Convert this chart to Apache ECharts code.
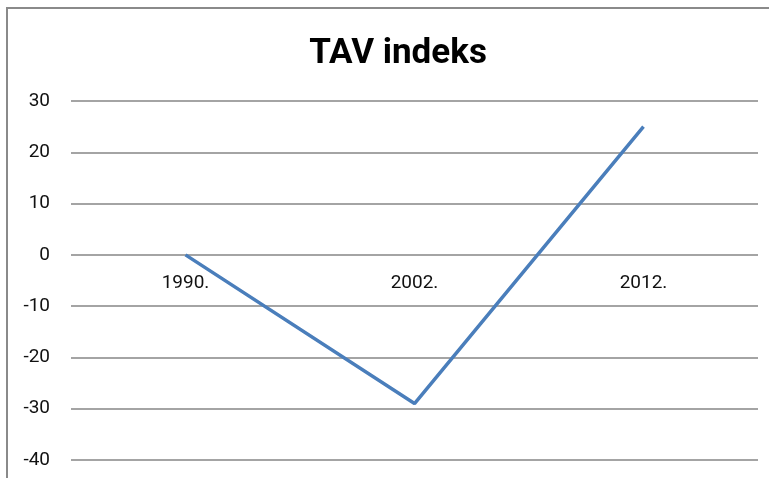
<!DOCTYPE html>
<html>
<head>
<meta charset="utf-8">
<script src="https://cdn.jsdelivr.net/npm/echarts@6/dist/echarts.min.js"></script>
<style>
  html, body { margin: 0; padding: 0; background: #fff; }
  #main { width: 769px; height: 478px; }
</style>
</head>
<body>
<div id="main"></div>
<script>
// data
var years = ['1990.', '2002.', '2012.'];
var tavValues = [0, -29, 25];
var yMin = -40, yMax = 30, yStep = 10;

var fontMain = 'Roboto, sans-serif';

// grid in px
var gridTop = 101, gridBottom = 18;
var plotH = 478 - gridTop - gridBottom;
// shift category axis up onto the zero line
var zeroOffset = -plotH * (0 - yMin) / (yMax - yMin);

var myChart = echarts.init(document.getElementById('main'));
var option = {
    backgroundColor: '#fff',
    animation: false,
    title: {
        text: 'TAV indeks',
        left: 393,
        textAlign: 'center',
        top: 32,
        textStyle: {
            fontFamily: fontMain,
            fontWeight: 'bold',
            fontSize: 35,
            color: '#000'
        }
    },
    // outer chart border (only top and left visible in the crop)
    graphic: [{
        type: 'rect',
        shape: { x: 7, y: 8, width: 780, height: 490 },
        style: { fill: 'none', stroke: '#8a8a8a', lineWidth: 2 }
    }],
    grid: {
        left: 71,
        right: 11,
        top: gridTop,
        bottom: gridBottom,
        outerBoundsMode: 'none'
    },
    xAxis: {
        type: 'category',
        data: years,
        position: 'bottom',
        offset: zeroOffset,
        axisLine: { onZero: false, show: false },
        axisTick: { show: false },
        axisLabel: {
            margin: 19,
            fontFamily: fontMain,
            fontSize: 19,
            color: '#111'
        }
    },
    yAxis: {
        type: 'value',
        min: yMin,
        max: yMax,
        interval: yStep,
        axisLine: { show: false },
        axisTick: { show: false },
        axisLabel: {
            margin: 21,
            fontFamily: fontMain,
            fontSize: 19,
            color: '#111'
        },
        splitLine: {
            lineStyle: { color: '#868686', width: 1.5 }
        }
    },
    series: [{
        type: 'line',
        data: tavValues,
        symbol: 'none',
        lineStyle: { color: '#4a7ebb', width: 3.5 }
    }]
};
myChart.setOption(option);
</script>
</body>
</html>
